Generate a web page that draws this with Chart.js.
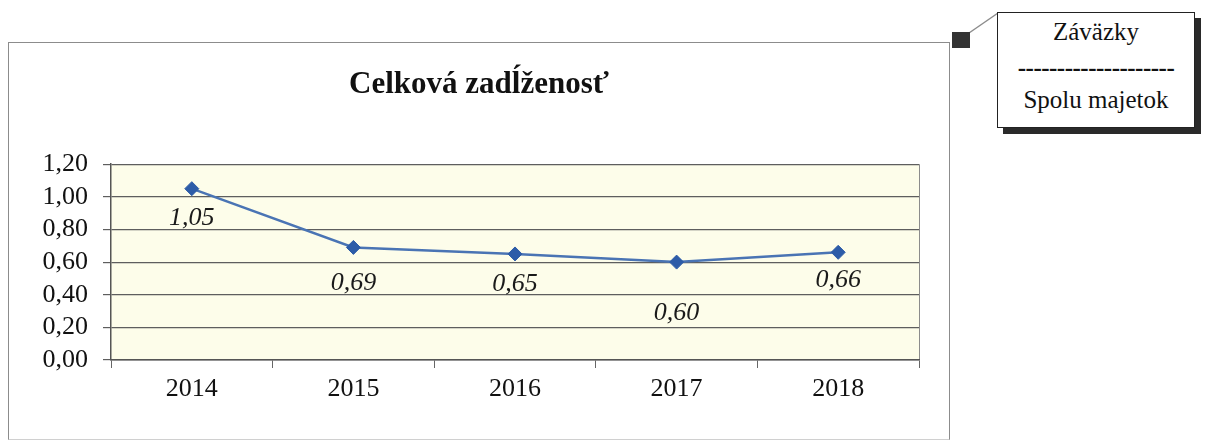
<!DOCTYPE html>
<html>
<head>
<meta charset="utf-8">
<script src="https://cdn.jsdelivr.net/npm/chart.js@4.4.1/dist/chart.umd.min.js"></script>
<style>
  html, body { margin: 0; padding: 0; background: #fff; }
  body { width: 1209px; height: 441px; position: relative; overflow: hidden; font-family: 'Liberation Serif', 'DejaVu Serif', serif; }
  #frame { position: absolute; left: 8px; top: 42px; width: 940px; height: 396px; border: 1.5px solid #8c8c8c; border-bottom-color: #d0d0d0; }
  #wrap { position: absolute; left: 8px; top: 0; width: 942px; height: 441px; }
  #marker { position: absolute; left: 952px; top: 32px; width: 18px; height: 16px; background: #333; }
  #connector { position: absolute; left: 0; top: 0; width: 1209px; height: 441px; pointer-events: none; }
  #callout { position: absolute; left: 997px; top: 12px; width: 196px; height: 114px; border: 1.5px solid #222; background: #fff; box-shadow: 6px 6px 0 #2a2a2a; color: #111; font-size: 25px; text-align: center; }
  #callout div { position: absolute; left: 0; width: 100%; line-height: 28px; }
</style>
</head>
<body>
<div id="frame"></div>
<svg id="connector"><line x1="969" y1="33" x2="998" y2="13" stroke="#8c8c8c" stroke-width="1.5"/></svg>
<div id="marker"></div>
<div id="callout">
  <div style="top:5px">Záväzky</div>
  <div style="top:41px;font-weight:bold;letter-spacing:-0.5px">--------------------</div>
  <div style="top:73px">Spolu majetok</div>
</div>
<div id="wrap"><canvas id="chart"></canvas></div>
<script>
const years = ['2014', '2015', '2016', '2017', '2018'];
const debtRatio = [1.05, 0.69, 0.65, 0.60, 0.66];
const valueLabels = ['1,05', '0,69', '0,65', '0,60', '0,66'];
const yTicks = [0, 0.2, 0.4, 0.6, 0.8, 1.0, 1.2];

const serif = "'Liberation Serif', 'DejaVu Serif', serif";

const plotBackground = {
  id: 'plotBackground',
  beforeDraw(chart) {
    const { ctx, chartArea: a } = chart;
    ctx.save();
    ctx.fillStyle = '#fdfdea';
    ctx.fillRect(a.left, a.top, a.right - a.left, a.bottom - a.top);
    ctx.strokeStyle = '#8c8c8c';
    ctx.lineWidth = 1;
    ctx.beginPath();
    ctx.moveTo(a.right + 0.5, a.top);
    ctx.lineTo(a.right + 0.5, a.bottom);
    ctx.stroke();
    ctx.restore();
  },
};

const pointLabels = {
  id: 'pointLabels',
  afterDatasetsDraw(chart, args, opts) {
    const { ctx } = chart;
    const meta = chart.getDatasetMeta(0);
    ctx.save();
    ctx.font = `italic 26px ${serif}`;
    ctx.fillStyle = '#1a1a1a';
    ctx.textAlign = 'center';
    ctx.textBaseline = 'middle';
    meta.data.forEach((pt, i) => {
      ctx.fillText(valueLabels[i], pt.x, pt.y + opts.offsets[i]);
    });
    ctx.restore();
  },
};

new Chart(document.getElementById('chart'), {
  type: 'line',
  data: {
    labels: years,
    datasets: [
      {
        data: debtRatio,
        borderColor: '#4a74b4',
        borderWidth: 2.5,
        pointStyle: 'rectRot',
        pointRadius: 7,
        pointBackgroundColor: '#2d5ca8',
        pointBorderColor: '#2d5ca8',
        pointBorderWidth: 1,
        tension: 0,
      },
    ],
  },
  options: {
    responsive: true,
    maintainAspectRatio: false,
    animation: false,
    layout: { padding: { top: 0, bottom: 0, left: 31, right: 31 } },
    plugins: {
      legend: { display: false },
      tooltip: { enabled: false },
      title: {
        display: true,
        text: 'Celková zadĺženosť',
        color: '#111',
        font: { family: serif, size: 31, weight: 'bold', lineHeight: 1.2 },
        padding: { top: 66, bottom: 61 },
      },
      pointLabels: { offsets: [29, 36, 30, 51, 28] },
    },
    scales: {
      x: {
        offset: true,
        afterFit(scale) { scale.height = 81; },
        grid: { offset: true, drawOnChartArea: false, drawTicks: true, tickLength: 8, color: '#666' },
        border: { color: '#555', width: 1.5 },
        ticks: { color: '#111', font: { family: serif, size: 26 }, padding: 6 },
      },
      y: {
        min: 0,
        max: 1.2,
        afterFit(scale) { scale.width = 72; },
        afterBuildTicks(scale) { scale.ticks = yTicks.map((v) => ({ value: v })); },
        grid: { color: '#5e5e5e', lineWidth: 1.2, tickLength: 8 },
        border: { color: '#555', width: 1.5 },
        ticks: {
          autoSkip: false,
          color: '#111',
          font: { family: serif, size: 26 },
          padding: 15,
          callback: (v) => Number(v).toFixed(2).replace('.', ','),
        },
      },
    },
  },
  plugins: [plotBackground, pointLabels],
});
</script>
</body>
</html>
